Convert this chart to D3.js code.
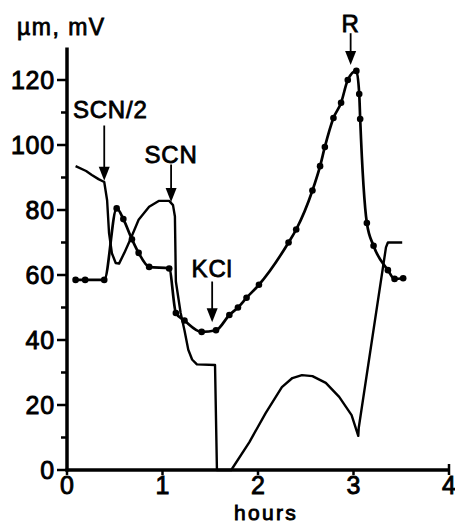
<!DOCTYPE html>
<html>
<head>
<meta charset="utf-8">
<script src="https://cdn.jsdelivr.net/npm/d3@7"></script>
<style>
  html, body { margin: 0; padding: 0; background: #fff; }
  svg { display: block; }
  text { font-family: "Liberation Sans", Arial, Helvetica, sans-serif; fill: #000; }
</style>
</head>
<body>
<svg id="chart" width="455" height="524"></svg>
<script>
// Dotted trace (µm): time in hours, value
const diamHours = [0.09, 0.19, 0.39, 0.52, 0.59, 0.68, 0.75, 0.86, 1.07, 1.14, 1.23, 1.41, 1.56, 1.70, 1.79, 1.88, 2.01, 2.32, 2.40, 2.57, 2.65, 2.70, 2.79, 2.87, 2.94, 3.03, 3.06, 3.07, 3.14, 3.21, 3.36, 3.43, 3.52];
const diamValues = [58.5, 58.5, 58.5, 80.5, 77.2, 71, 66.8, 62.5, 62, 48.3, 46, 42.5, 43, 47.7, 50, 53, 57, 70, 74, 86, 93.5, 99.4, 108.3, 113, 120, 122.8, 115.7, 108, 76, 69, 61.5, 58.8, 59];

// Plain trace (mV): time in hours, value
const potHours = [0.09, 0.20, 0.26, 0.33, 0.39, 0.42, 0.44, 0.47, 0.51, 0.545, 0.60, 0.67, 0.75, 0.86, 0.96, 1.07, 1.11, 1.13, 1.14, 1.19, 1.23, 1.27, 1.31, 1.36, 1.55, 1.57, 1.72, 1.91, 2.08, 2.25, 2.36, 2.46, 2.57, 2.71, 2.85, 2.98, 3.05, 3.055, 3.34, 3.36, 3.51];
const potValues = [93.5, 92, 90.8, 89.5, 88.6, 83, 73, 66.7, 63.7, 63.5, 66.8, 71.4, 77, 81, 82.8, 82.8, 81.5, 78, 58, 48.3, 43, 37, 34, 32.5, 32.3, 0, 0, 8.6, 17.5, 25.5, 28.3, 29.2, 28.9, 26.8, 22.5, 16.9, 10.5, 13, 68.5, 70, 70];

// Axis ticks
const yMajorTicks = [0, 20, 40, 60, 80, 100, 120];
const yMinorTicks = [10, 30, 50, 70, 90, 110];
const xTicks = [0, 1, 2, 3, 4];

// Arrow annotations: label, time, arrow tip value, arrow tail value, label baseline value
const markLabels = ["SCN/2", "SCN", "KCl", "R"];
const markHours = [0.39, 1.09, 1.52, 2.97];
const markTips = [89, 82.5, 45.5, 124.6];
const markTails = [106, 94, 58, 134.4];
const markTextY = [108.3, 94.5, 59.5, 134.8];
const markTextDx = [6, 0, 0, 0];

const svg = d3.select("#chart");

const x = d3.scaleLinear().domain([0, 4]).range([67, 449]);
const y = d3.scaleLinear().domain([0, 130]).range([470, 47.5]);

const g = svg.append("g");

// Y axis: thick spine with long major and short minor ticks on the left
g.append("line")
  .attr("x1", x(0)).attr("x2", x(0))
  .attr("y1", y(130)).attr("y2", y(0) + 1.5)
  .attr("stroke", "#000").attr("stroke-width", 3.5);

g.selectAll(".ymaj").data(yMajorTicks).join("line")
  .attr("x1", x(0) - 10).attr("x2", x(0))
  .attr("y1", d => y(d)).attr("y2", d => y(d))
  .attr("stroke", "#000").attr("stroke-width", 2.5);

g.selectAll(".ymin").data(yMinorTicks).join("line")
  .attr("class", "ymin")
  .attr("x1", x(0) - 6).attr("x2", x(0))
  .attr("y1", d => y(d)).attr("y2", d => y(d))
  .attr("stroke", "#000").attr("stroke-width", 2.5);

g.selectAll(".ylab").data(yMajorTicks).join("text")
  .attr("class", "ylab")
  .attr("x", x(0) - 12)
  .attr("y", d => y(d))
  .attr("dy", "0.36em")
  .attr("text-anchor", "end")
  .attr("font-size", 25)
  .attr("letter-spacing", 0.8)
  .attr("stroke", "#000").attr("stroke-width", 0.9)
  .text(d => d);

// X axis
g.append("line")
  .attr("x1", x(0) - 1.5).attr("x2", x(4))
  .attr("y1", y(0)).attr("y2", y(0))
  .attr("stroke", "#000").attr("stroke-width", 3.5);

g.selectAll(".xt").data(xTicks).join("line")
  .attr("class", "xt")
  .attr("x1", d => x(d)).attr("x2", d => x(d))
  .attr("y1", d => d === 4 ? y(0) - 6 : y(0))
  .attr("y2", y(0) + 5)
  .attr("stroke", "#000").attr("stroke-width", 2.5);

g.selectAll(".xlab").data(xTicks).join("text")
  .attr("class", "xlab")
  .attr("x", d => x(d))
  .attr("y", 494)
  .attr("text-anchor", "middle")
  .attr("font-size", 25)
  .attr("stroke", "#000").attr("stroke-width", 0.9)
  .text(d => d);

g.append("text")
  .attr("x", 266).attr("y", 519.5)
  .attr("text-anchor", "middle")
  .attr("font-size", 21)
  .attr("letter-spacing", 2.3)
  .attr("stroke", "#000").attr("stroke-width", 0.9)
  .text("hours");

g.append("text")
  .attr("x", 17).attr("y", 35)
  .attr("font-size", 23)
  .attr("letter-spacing", 1.5)
  .attr("stroke", "#000").attr("stroke-width", 0.8)
  .text("µm, mV");

// Traces
const potLine = d3.line()
  .x((d, i) => x(potHours[i]))
  .y(d => y(d))
  .curve(d3.curveLinear);

g.append("path")
  .datum(potValues)
  .attr("d", potLine)
  .attr("fill", "none")
  .attr("stroke", "#000")
  .attr("stroke-width", 2.4)
  .attr("stroke-linejoin", "round");

const diamLine = d3.line()
  .x((d, i) => x(diamHours[i]))
  .y(d => y(d))
  .curve(d3.curveMonotoneX);

g.append("path")
  .datum(diamValues)
  .attr("d", diamLine)
  .attr("fill", "none")
  .attr("stroke", "#000")
  .attr("stroke-width", 2.7)
  .attr("stroke-linejoin", "round");

g.selectAll(".dot").data(diamValues).join("circle")
  .attr("class", "dot")
  .attr("cx", (d, i) => x(diamHours[i]))
  .attr("cy", d => y(d))
  .attr("r", 3.3)
  .attr("fill", "#000");

// Arrow annotations
const marks = markLabels.map((label, i) => ({
  label, t: markHours[i], tip: markTips[i], tail: markTails[i], ty: markTextY[i], dx: markTextDx[i]
}));

const mg = g.selectAll(".mark").data(marks).join("g").attr("class", "mark");

mg.append("line")
  .attr("x1", d => x(d.t)).attr("x2", d => x(d.t))
  .attr("y1", d => y(d.tail)).attr("y2", d => y(d.tip) - 10)
  .attr("stroke", "#000").attr("stroke-width", 1.8);

mg.append("path")
  .attr("d", d => {
    const px = x(d.t), py = y(d.tip);
    return `M${px - 5.5},${py - 14}L${px + 5.5},${py - 14}L${px},${py}Z`;
  })
  .attr("fill", "#000");

mg.append("text")
  .attr("x", d => x(d.t) + d.dx)
  .attr("y", d => y(d.ty))
  .attr("text-anchor", "middle")
  .attr("font-size", 24)
  .attr("letter-spacing", 0.8)
  .attr("stroke", "#000").attr("stroke-width", 0.8)
  .text(d => d.label);
</script>
</body>
</html>
